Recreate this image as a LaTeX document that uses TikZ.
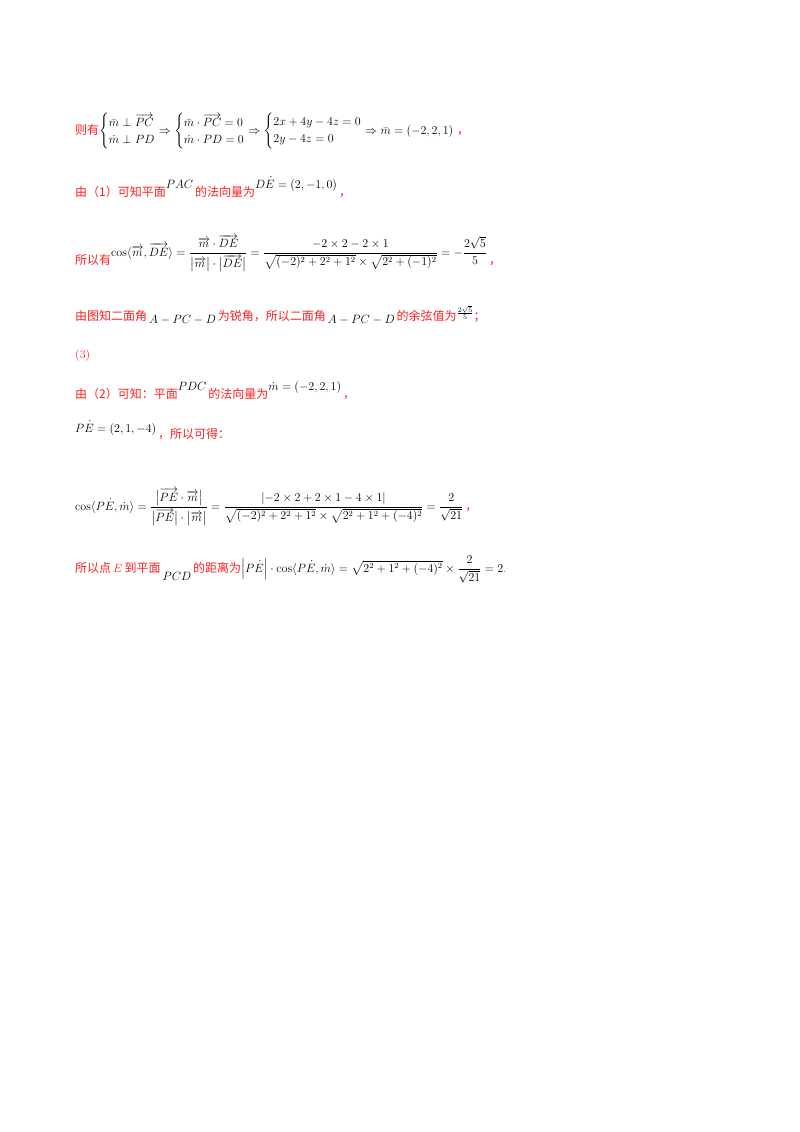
\documentclass[tikz,border=0pt]{standalone}
\usepackage{amsmath}
\usepackage{fontspec}
\newfontfamily\cjk{Noto Sans CJK SC}
\definecolor{rd}{HTML}{FF2020}
\begin{document}
\begin{tikzpicture}[x=1pt,y=-1pt,
  ln/.style={anchor=base west,inner sep=0pt,font=\fontsize{12}{14}\selectfont}]
\useasboundingbox[fill=white] (0,0) rectangle (800,1132);
\node[ln] (l1) at (75,134) {\textcolor{rd}{\cjk 则有}$\begin{cases}\bar m\perp\overrightarrow{PC}\\ \dot m\perp PD\end{cases}\mskip-18mu\Rightarrow\begin{cases}\bar m\cdot\overrightarrow{PC}=0\\ \dot m\cdot PD=0\end{cases}\mskip-18mu\Rightarrow\begin{cases}2x+4y-4z=0\\ 2y-4z=0\end{cases}\mskip-18mu\Rightarrow \bar m=(-2,2,1)$\ \textcolor{rd}{\cjk ，}};
\node[ln] (l2) at (75,196) {\textcolor{rd}{\cjk 由（1）可知平面}\raisebox{8pt}{$PAC$}\,\textcolor{rd}{\cjk 的法向量为}\raisebox{8pt}{$D\dot E=(2,-1,0)$}\,\textcolor{rd}{\cjk ，}};
\node[ln] (l3) at (75,264) {\textcolor{rd}{\cjk 所以有}\raisebox{8pt}{$\cos\langle\overrightarrow{m},\overrightarrow{DE}\rangle=\dfrac{\overrightarrow{m}\cdot\overrightarrow{DE}}{\bigl|\overrightarrow{m}\bigr|\cdot\bigl|\overrightarrow{DE}\bigr|}=\dfrac{-2\times2-2\times1}{\sqrt{(-2)^2+2^2+1^2}\times\sqrt{2^2+(-1)^2}}=-\dfrac{2\sqrt5}{5}$}\,\textcolor{rd}{\cjk ，}};
\node[ln] (l4) at (75,320) {\textcolor{rd}{\cjk 由图知二面角}\,\raisebox{-3pt}{$A-PC-D$}\,\textcolor{rd}{\cjk 为锐角，所以二面角}\,\raisebox{-3pt}{$A-PC-D$}\,\textcolor{rd}{\cjk 的余弦值为}\raisebox{4pt}{\fontsize{10}{11}\selectfont$\frac{2\sqrt5}{5}$}\textcolor{rd}{\cjk ；}};
\node[ln,text=rd] (l5) at (75,358) {(3)};
\node[ln] (l6) at (75,398) {\textcolor{rd}{\cjk 由（2）可知：平面}\raisebox{8pt}{$PDC$}\,\textcolor{rd}{\cjk 的法向量为}\raisebox{8pt}{$\dot m=(-2,2,1)$}\,\textcolor{rd}{\cjk ，}};
\node[ln] (l7) at (75,438) {\raisebox{6pt}{$P\dot E=(2,1,-4)$}\,\textcolor{rd}{\cjk ，所以可得：}};
\node[ln] (l8) at (75,510) {$\cos\langle P\dot E,\dot m\rangle=\dfrac{\bigl|\overrightarrow{PE}\cdot\overrightarrow{m}\bigr|}{\bigl|\overrightarrow{PE}\bigr|\cdot\bigl|\overrightarrow{m}\bigr|}=\dfrac{\left|-2\times2+2\times1-4\times1\right|}{\sqrt{(-2)^2+2^2+1^2}\times\sqrt{2^2+1^2+(-4)^2}}=\dfrac{2}{\sqrt{21}}$\,\textcolor{rd}{\cjk ，}};
\node[ln] (l9) at (75,572) {\textcolor{rd}{\cjk 所以点}\,\textcolor{rd}{$E$}\,\textcolor{rd}{\cjk 到平面}\,\raisebox{-8pt}{$PCD$}\,\textcolor{rd}{\cjk 的距离为}$\Bigl|P\dot E\Bigr|\cdot\cos\langle P\dot E,\dot m\rangle=\sqrt{2^2+1^2+(-4)^2}\times\dfrac{2}{\sqrt{21}}=2$\textcolor{rd}{.}};
\end{tikzpicture}
\end{document}
